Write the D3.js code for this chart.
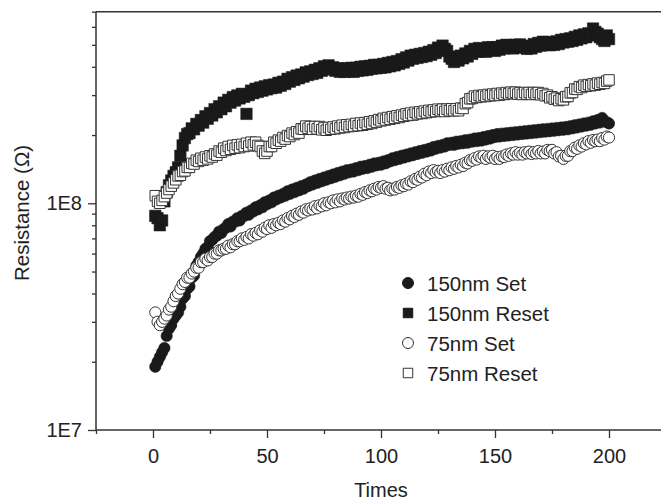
<!DOCTYPE html>
<html><head><meta charset="utf-8">
<script src="https://cdn.jsdelivr.net/npm/d3@7"></script>
<style>body{margin:0;background:#fff}svg{display:block}text{font-family:"Liberation Sans",Arial,sans-serif;fill:#222}</style>
</head><body><svg id="c" width="661" height="503"></svg>
<script>
// Resistance values in units of 1E8 Ohm, cycle index 1..200
const times = d3.range(1, 201);
const set150 = [
0.19,0.20,0.21,0.22,0.23,0.26,0.28,0.29,0.31,0.32,
0.33,0.35,0.38,0.39,0.42,0.43,0.47,0.48,0.53,0.55,
0.58,0.60,0.63,0.64,0.68,0.69,0.71,0.72,0.75,0.74,
0.77,0.78,0.81,0.79,0.83,0.83,0.86,0.84,0.88,0.88,
0.91,0.89,0.93,0.92,0.96,0.94,0.98,0.96,1.01,0.99,
1.03,1.01,1.06,1.04,1.08,1.06,1.10,1.08,1.13,1.10,
1.15,1.12,1.17,1.14,1.19,1.16,1.21,1.19,1.24,1.21,
1.26,1.23,1.28,1.25,1.30,1.27,1.32,1.29,1.34,1.31,
1.36,1.33,1.38,1.35,1.40,1.37,1.41,1.38,1.43,1.40,
1.45,1.42,1.46,1.43,1.48,1.45,1.50,1.47,1.51,1.48,
1.53,1.50,1.55,1.53,1.58,1.55,1.60,1.57,1.62,1.59,
1.64,1.61,1.66,1.63,1.68,1.65,1.70,1.67,1.72,1.69,
1.74,1.71,1.77,1.74,1.79,1.76,1.81,1.78,1.84,1.81,
1.85,1.81,1.87,1.83,1.88,1.84,1.90,1.85,1.91,1.87,
1.93,1.88,1.94,1.89,1.96,1.91,1.98,1.93,2.00,1.96,
2.02,1.97,2.03,1.98,2.04,1.99,2.05,2.00,2.06,2.01,
2.07,2.02,2.08,2.03,2.09,2.04,2.10,2.05,2.11,2.06,
2.12,2.07,2.13,2.08,2.14,2.09,2.15,2.10,2.16,2.11,
2.17,2.12,2.19,2.14,2.21,2.16,2.23,2.18,2.25,2.20,
2.27,2.22,2.30,2.25,2.33,2.27,2.38,2.30,2.28,2.25];
const reset150 = [
0.88,0.86,0.80,0.84,1.02,1.12,1.20,1.26,1.32,1.37,
1.44,1.62,1.80,1.94,2.02,2.04,2.14,2.12,2.24,2.20,
2.33,2.27,2.42,2.36,2.50,2.44,2.60,2.52,2.68,2.60,
2.78,2.68,2.86,2.78,2.94,2.84,2.99,2.90,3.04,2.95,
2.48,3.00,3.14,3.06,3.20,3.10,3.24,3.14,3.28,3.18,
3.32,3.22,3.34,3.24,3.40,3.30,3.44,3.36,3.54,3.44,
3.60,3.50,3.66,3.56,3.70,3.62,3.78,3.68,3.82,3.72,
3.88,3.76,3.94,3.84,4.02,3.90,4.06,3.90,3.98,3.84,
3.94,3.80,3.92,3.80,3.94,3.82,3.96,3.80,3.96,3.84,
4.00,3.86,4.02,3.88,4.04,3.92,4.08,3.94,4.08,3.96,
4.12,3.98,4.16,4.02,4.20,4.06,4.24,4.12,4.32,4.18,
4.40,4.26,4.48,4.34,4.52,4.38,4.56,4.42,4.60,4.46,
4.66,4.52,4.74,4.60,4.86,4.74,4.96,4.80,4.70,4.44,
4.34,4.20,4.36,4.26,4.48,4.36,4.58,4.44,4.70,4.56,
4.80,4.66,4.84,4.68,4.80,4.66,4.88,4.74,4.88,4.70,
4.88,4.76,4.96,4.82,5.00,4.86,4.98,4.82,5.00,4.90,
5.02,4.86,4.94,4.80,4.94,4.82,5.04,4.90,5.10,4.96,
5.16,5.00,5.14,4.98,5.12,5.00,5.18,5.04,5.26,5.12,
5.30,5.16,5.34,5.20,5.42,5.26,5.50,5.34,5.56,5.40,
5.62,5.50,5.90,5.70,5.60,5.40,5.30,5.20,5.50,5.30];
const set75 = [
0.33,0.30,0.29,0.30,0.31,0.32,0.34,0.35,0.37,0.39,
0.40,0.42,0.44,0.45,0.47,0.47,0.49,0.50,0.52,0.52,
0.55,0.55,0.57,0.56,0.58,0.58,0.60,0.60,0.62,0.62,
0.63,0.63,0.65,0.64,0.66,0.66,0.68,0.68,0.70,0.69,
0.71,0.70,0.73,0.72,0.74,0.73,0.76,0.75,0.78,0.77,
0.80,0.78,0.81,0.80,0.82,0.81,0.84,0.83,0.86,0.85,
0.88,0.87,0.90,0.89,0.92,0.91,0.94,0.93,0.95,0.94,
0.97,0.95,0.98,0.97,1.00,0.98,1.01,1.00,1.03,1.01,
1.04,1.02,1.05,1.04,1.06,1.05,1.07,1.06,1.08,1.07,
1.10,1.09,1.12,1.11,1.14,1.13,1.16,1.15,1.18,1.17,
1.19,1.16,1.17,1.14,1.16,1.15,1.18,1.17,1.20,1.19,
1.22,1.21,1.25,1.24,1.28,1.27,1.31,1.30,1.35,1.33,
1.38,1.36,1.40,1.37,1.39,1.36,1.40,1.38,1.42,1.40,
1.44,1.42,1.46,1.44,1.48,1.46,1.51,1.50,1.55,1.54,
1.58,1.56,1.61,1.59,1.62,1.57,1.61,1.59,1.62,1.57,
1.60,1.57,1.61,1.60,1.64,1.62,1.66,1.64,1.68,1.64,
1.67,1.64,1.68,1.66,1.69,1.65,1.68,1.66,1.70,1.66,
1.69,1.66,1.72,1.70,1.72,1.66,1.68,1.61,1.62,1.57,
1.62,1.62,1.70,1.70,1.76,1.74,1.80,1.78,1.84,1.82,
1.88,1.85,1.90,1.88,1.91,1.88,1.94,1.91,1.97,1.95];
const reset75 = [
1.08,1.02,1.00,1.03,1.07,1.11,1.15,1.19,1.23,1.27,
1.32,1.33,1.38,1.39,1.44,1.44,1.50,1.49,1.55,1.53,
1.58,1.55,1.60,1.57,1.62,1.60,1.65,1.63,1.70,1.68,
1.75,1.71,1.78,1.73,1.80,1.75,1.81,1.76,1.82,1.78,
1.84,1.79,1.86,1.81,1.86,1.80,1.78,1.70,1.66,1.70,
1.78,1.78,1.86,1.84,1.90,1.88,1.95,1.92,1.99,1.97,
2.04,2.01,2.07,2.04,2.13,2.12,2.19,2.14,2.18,2.12,
2.18,2.13,2.18,2.11,2.15,2.10,2.16,2.12,2.17,2.13,
2.19,2.15,2.21,2.16,2.22,2.18,2.23,2.19,2.25,2.20,
2.26,2.21,2.27,2.23,2.29,2.25,2.31,2.28,2.34,2.31,
2.37,2.33,2.39,2.35,2.41,2.37,2.43,2.39,2.45,2.42,
2.48,2.44,2.50,2.45,2.52,2.48,2.53,2.49,2.55,2.51,
2.57,2.53,2.58,2.54,2.60,2.56,2.60,2.54,2.60,2.56,
2.61,2.56,2.61,2.56,2.63,2.62,2.75,2.78,2.89,2.90,
2.97,2.93,2.99,2.95,3.00,2.96,3.02,2.98,3.03,2.99,
3.05,3.00,3.06,3.02,3.08,3.04,3.09,3.05,3.09,3.03,
3.07,3.02,3.08,3.03,3.08,3.02,3.08,3.03,3.08,3.01,
3.05,2.98,3.00,2.92,2.95,2.88,2.91,2.84,2.89,2.86,
2.95,2.96,3.07,3.08,3.19,3.18,3.27,3.24,3.32,3.28,
3.34,3.30,3.36,3.32,3.39,3.35,3.41,3.38,3.46,3.50];
const unit = 1e8;
const seriesNames = ["150nm Set", "150nm Reset", "75nm Set", "75nm Reset"];
const xMajorTicks = [0, 50, 100, 150, 200];
const xMinorTicks = [-25, 25, 75, 125, 175, 225];
const yMajorTicks = [1e7, 1e8];
const yMajorLabels = ["1E7", "1E8"];
const yMinorTicks = [2e7,3e7,4e7,5e7,6e7,7e7,8e7,9e7,2e8,3e8,4e8,5e8,6e8,7e8];

const svg = d3.select("#c");
const x = d3.scaleLinear().domain([-25, 225]).range([96, 666]);
const y = d3.scaleLog().domain([1e7, 7e8]).range([430, 11.7]);
const ink = "#1a1a1a", axisCol = "#333";

const series = [
  {name: seriesNames[0], vals: set150, shape: "circle", filled: true, size: Math.PI*5.7*5.7},
  {name: seriesNames[1], vals: reset150, shape: "square", filled: true, size: 11.5*11.5},
  {name: seriesNames[2], vals: set75, shape: "circle", filled: false, size: Math.PI*5.6*5.6},
  {name: seriesNames[3], vals: reset75, shape: "square", filled: false, size: 10.5*10.5}
];
const symType = {circle: d3.symbolCircle, square: d3.symbolSquare};

const plot = svg.append("g");
series.forEach(s => {
  const sy = d3.symbol().type(symType[s.shape]).size(s.size);
  plot.append("g").selectAll("path").data(times).join("path")
    .attr("d", sy)
    .attr("transform", (t, i) => `translate(${x(t)},${y(s.vals[i]*unit)})`)
    .attr("fill", s.filled ? ink : "#fff")
    .attr("stroke", s.filled ? ink : "#333")
    .attr("stroke-width", s.filled ? 0.5 : 1);
});

// axes
const yAxMajor = d3.axisLeft(y).tickValues(yMajorTicks).tickFormat((d,i)=>yMajorLabels[i]).tickSize(8).tickPadding(6);
const yAxMinor = d3.axisLeft(y).tickValues(yMinorTicks).tickFormat("").tickSize(4);
const xAxMajor = d3.axisBottom(x).tickValues(xMajorTicks).tickSize(8).tickPadding(11);
const xAxMinor = d3.axisBottom(x).tickValues(xMinorTicks).tickFormat("").tickSize(4);
const gy1 = svg.append("g").attr("transform","translate(96,0)").call(yAxMajor);
const gy2 = svg.append("g").attr("transform","translate(96,0)").call(yAxMinor);
const gx1 = svg.append("g").attr("transform","translate(0,430)").call(xAxMajor);
const gx2 = svg.append("g").attr("transform","translate(0,430)").call(xAxMinor);
[gy1,gy2,gx1,gx2].forEach(g=>{
  g.selectAll(".domain").remove();
  g.selectAll("line").attr("stroke", axisCol).attr("stroke-width",1.3);
  g.selectAll("text").attr("font-size",20).attr("fill","#222").attr("font-family","Liberation Sans, Arial, sans-serif");
});
// frame lines
svg.append("line").attr("x1",96).attr("x2",661).attr("y1",430).attr("y2",430).attr("stroke",axisCol).attr("stroke-width",1.5);
svg.append("line").attr("x1",96).attr("x2",661).attr("y1",11.7).attr("y2",11.7).attr("stroke",axisCol).attr("stroke-width",1.5);
svg.append("line").attr("x1",96).attr("x2",96).attr("y1",11.7).attr("y2",430).attr("stroke",axisCol).attr("stroke-width",1.5);

// titles
svg.append("text").attr("x",381).attr("y",497).attr("text-anchor","middle").attr("font-size",20).text("Times");
svg.append("text").attr("transform","translate(29,213) rotate(-90)").attr("text-anchor","middle").attr("font-size",20.5).text("Resistance (Ω)");

// legend
const leg = svg.append("g");
series.forEach((s,i)=>{
  const ly = 283 + i*30;
  const sy = d3.symbol().type(symType[s.shape]).size(s.shape==="circle"? Math.PI*5.5*5.5 : 90);
  leg.append("path").attr("d", sy())
    .attr("transform",`translate(408,${ly})`)
    .attr("fill", s.filled ? ink : "#fff").attr("stroke", s.filled? ink : "#333").attr("stroke-width",1);
  leg.append("text").attr("x",427).attr("y",ly+7.5).attr("font-size",20.5).text(s.name);
});
</script></body></html>
